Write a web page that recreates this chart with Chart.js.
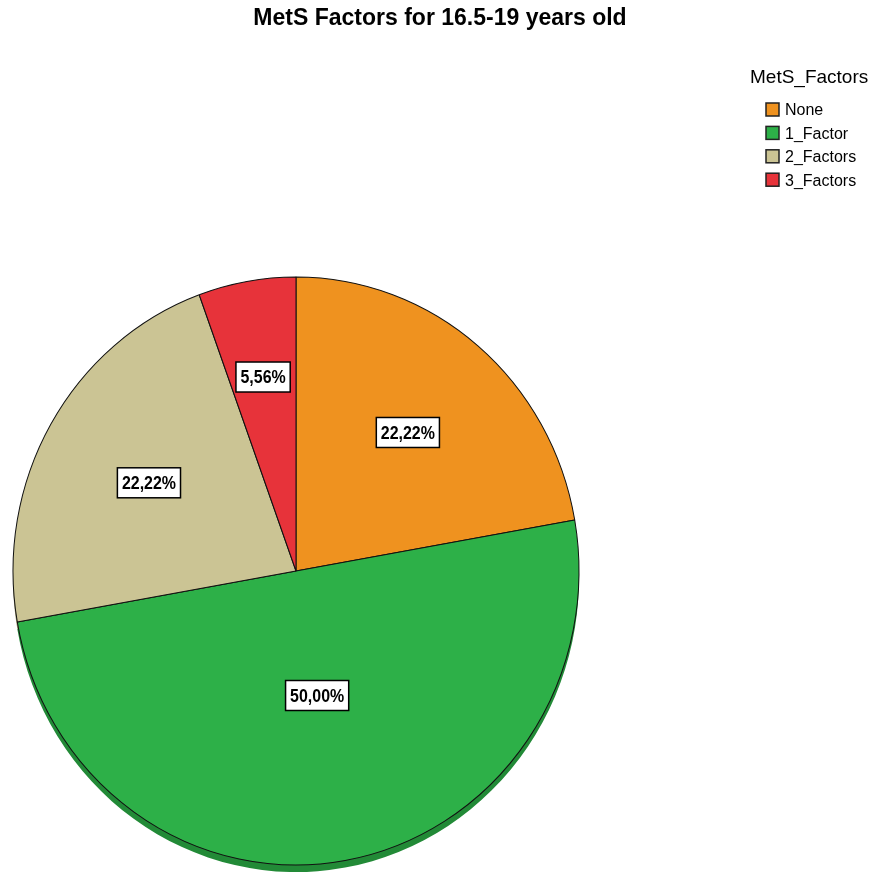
<!DOCTYPE html>
<html>

<head>
    <title>MetS Factors</title>
    <style>
        body {
            margin: 0;
            background: white;
        }

        .grafico {
            width: 876px;
            height: 877px;
        }
    </style>
</head>

<body>
    <div class="grafico">
        <canvas id="chartMets" width="876" height="877"></canvas>
    </div>

    <script src="https://cdn.jsdelivr.net/npm/chart.js"></script>
    <script>
        // dados (18 pessoas no total)
        const categorias = ['None', '1_Factor', '2_Factors', '3_Factors'];
        const contagens = [4, 9, 4, 1];

        const cores = ['#EF921F', '#2DB048', '#CBC494', '#E7333A'];
        const coresBorda3d = ['#B86E14', '#228A37', '#9D9870', '#B02428'];

        const escalaY = 294 / 283; // pizza levemente oval
        const profundidade = 7;    // espessura do "3D"
        const fracaoRotulo = [0.615, 0.43, 0.6, 0.67];

        const fonte = '"Liberation Sans", Arial, Helvetica, sans-serif';

        function centroPizza(chart) {
            const arco = chart.getDatasetMeta(0).data[0];
            return { x: arco.x, y: arco.y, r: arco.outerRadius };
        }

        const pluginPizza = {
            id: 'pizzaOval',
            beforeDatasetsDraw(chart) {
                const ctx = chart.ctx;
                const c = centroPizza(chart);
                ctx.save();
                ctx.translate(c.x, c.y);
                ctx.scale(1, escalaY);
                ctx.translate(-c.x, -c.y);

                // borda de baixo (efeito 3D)
                const arcos = chart.getDatasetMeta(0).data;
                arcos.forEach(function (a, i) {
                    ctx.beginPath();
                    ctx.moveTo(a.x, a.y + profundidade / escalaY);
                    ctx.arc(a.x, a.y + profundidade / escalaY, a.outerRadius, a.startAngle, a.endAngle);
                    ctx.closePath();
                    ctx.fillStyle = coresBorda3d[i];
                    ctx.fill();
                });
            },
            afterDatasetsDraw(chart) {
                const ctx = chart.ctx;
                ctx.restore();

                // rótulos de porcentagem
                const total = contagens.reduce((s, v) => s + v, 0);
                const arcos = chart.getDatasetMeta(0).data;
                arcos.forEach(function (a, i) {
                    const ang = (a.startAngle + a.endAngle) / 2;
                    const f = fracaoRotulo[i];
                    const x = a.x + Math.cos(ang) * a.outerRadius * f;
                    const y = a.y + Math.sin(ang) * a.outerRadius * f * escalaY;
                    const texto = (contagens[i] / total * 100).toFixed(2).replace('.', ',') + '%';

                    ctx.save();
                    ctx.font = 'bold 19px ' + fonte;
                    const larg = ctx.measureText(texto).width * 0.84;
                    const w = larg + 9;
                    const h = 30;
                    ctx.fillStyle = 'white';
                    ctx.fillRect(x - w / 2, y - h / 2, w, h);
                    ctx.lineWidth = 1.5;
                    ctx.strokeStyle = 'black';
                    ctx.strokeRect(x - w / 2, y - h / 2, w, h);
                    ctx.translate(x, y);
                    ctx.scale(0.84, 1);
                    ctx.fillStyle = 'black';
                    ctx.textAlign = 'center';
                    ctx.textBaseline = 'middle';
                    ctx.fillText(texto, 0, 1);
                    ctx.restore();
                });
            },
            afterDraw(chart) {
                const ctx = chart.ctx;
                ctx.save();

                // título
                ctx.fillStyle = 'black';
                ctx.font = 'bold 23px ' + fonte;
                ctx.textAlign = 'center';
                ctx.textBaseline = 'alphabetic';
                ctx.fillText('MetS Factors for 16.5-19 years old', 440, 25);

                // legenda
                ctx.textAlign = 'left';
                ctx.font = '19px ' + fonte;
                ctx.fillText('MetS_Factors', 750, 83);

                ctx.font = '16px ' + fonte;
                categorias.forEach(function (nome, i) {
                    const yc = 110 + i * 23.4;
                    ctx.fillStyle = cores[i];
                    ctx.fillRect(766, yc - 7, 13, 13);
                    ctx.lineWidth = 1.5;
                    ctx.strokeStyle = '#222';
                    ctx.strokeRect(766, yc - 7, 13, 13);
                    ctx.fillStyle = 'black';
                    ctx.textBaseline = 'middle';
                    ctx.fillText(nome, 785, yc + 1);
                });
                ctx.restore();
            }
        };

        const ctxMets = document.getElementById('chartMets').getContext('2d');

        const chartMets = new Chart(ctxMets, {
            type: 'pie',
            data: {
                labels: categorias,
                datasets: [{
                    data: contagens,
                    backgroundColor: cores,
                    borderColor: '#111',
                    borderWidth: 1,
                    hoverOffset: 0,
                    offset: 0,
                    clip: false
                }]
            },
            options: {
                responsive: false,
                animation: false,
                events: [],
                layout: {
                    padding: { left: 12.5, top: 287.5, right: 296.5, bottom: 22.5 }
                },
                plugins: {
                    legend: { display: false },
                    title: { display: false },
                    tooltip: { enabled: false }
                }
            },
            plugins: [pluginPizza]
        });
    </script>
</body>

</html>
